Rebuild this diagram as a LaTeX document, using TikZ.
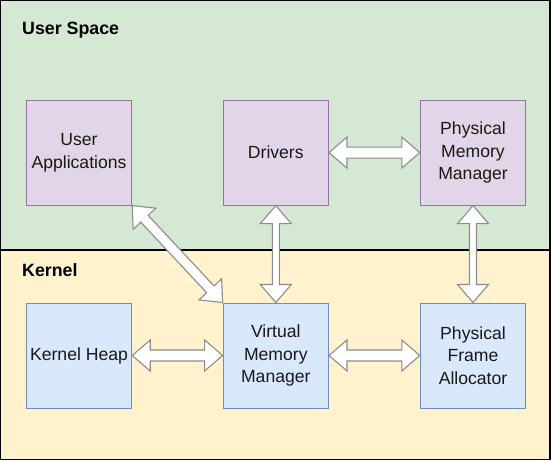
\documentclass[tikz,border=0pt]{standalone}
\usepackage{fontspec}
\setmainfont{Liberation Sans}
\usetikzlibrary{calc}
\definecolor{usergreen}{HTML}{D5E8D4}
\definecolor{kernyellow}{HTML}{FFF2CC}
\definecolor{purfill}{HTML}{E1D5E7}
\definecolor{purline}{HTML}{9673A6}
\definecolor{bluefill}{HTML}{DAE8FC}
\definecolor{blueline}{HTML}{6C8EBF}
\definecolor{arrowline}{HTML}{8C8C8C}
\tikzset{
  box/.style={draw, line width=1pt, minimum width=105.4pt, minimum height=105pt,
    inner sep=2pt, align=center, font=\fontsize{17.6}{22.4}\selectfont, text=black!90},
  userbox/.style={box, fill=purfill, draw=purline},
  kernbox/.style={box, fill=bluefill, draw=blueline},
  title/.style={anchor=west, font=\fontsize{17.8}{21}\selectfont\bfseries, inner sep=0pt},
  flexstyle/.style={draw=arrowline, fill=white, line width=1.1pt, line join=miter}
}
% #1 start, #2 end, #3 shaft half width
\newcommand\flexarrow[3]{%
  \coordinate (fa-a) at (#1);
  \coordinate (fa-b) at (#2);
  \coordinate (fa-p) at ($(fa-a)!18pt!(fa-b)$);
  \coordinate (fa-q) at ($(fa-b)!18pt!(fa-a)$);
  \draw[flexstyle] (fa-a) -- ($(fa-p)!15.5pt!90:(fa-b)$) -- ($(fa-p)!#3!90:(fa-b)$)
    -- ($(fa-q)!#3!-90:(fa-a)$) -- ($(fa-q)!15.5pt!-90:(fa-a)$) -- (fa-b)
    -- ($(fa-q)!15.5pt!90:(fa-a)$) -- ($(fa-q)!#3!90:(fa-a)$)
    -- ($(fa-p)!#3!-90:(fa-b)$) -- ($(fa-p)!15.5pt!-90:(fa-b)$) -- cycle;}
\begin{document}
\begin{tikzpicture}[x=1pt,y=-1pt]
\useasboundingbox (0,0) rectangle (551,461);
\fill[usergreen] (0.6,0.6) rectangle (550,250);
\fill[kernyellow] (0.6,250) rectangle (550,459.6);
\draw[line width=1.2pt] (0.6,250) -- (550,250);
\draw[line width=1.2pt] (0.6,0.6) rectangle (550,459.6);

\node[title] (us) at (22,30) {User Space};
\node[title] (kn) at (22,270) {Kernel};

\node[userbox] (ua)  at (79,152.6)  {User\\Applications};
\node[userbox] (drv) at (275.8,152.6) {Drivers};
\node[userbox] (pmm) at (473,152.6) {Physical\\Memory\\Manager};
\node[kernbox] (kh)  at (79,355.5) {Kernel Heap};
\node[kernbox] (vmm) at (275.8,355.5) {Virtual\\Memory\\Manager};
\node[kernbox] (pfa) at (473,355.5) {Physical\\Frame\\Allocator};

\flexarrow{drv.east}{pmm.west}{5.5pt}
\flexarrow{drv.south}{vmm.north}{3.5pt}
\flexarrow{pmm.south}{pfa.north}{3.5pt}
\flexarrow{kh.east}{vmm.west}{5.5pt}
\flexarrow{vmm.east}{pfa.west}{5.5pt}
\flexarrow{ua.south east}{vmm.north west}{5pt}
\end{tikzpicture}
\end{document}
